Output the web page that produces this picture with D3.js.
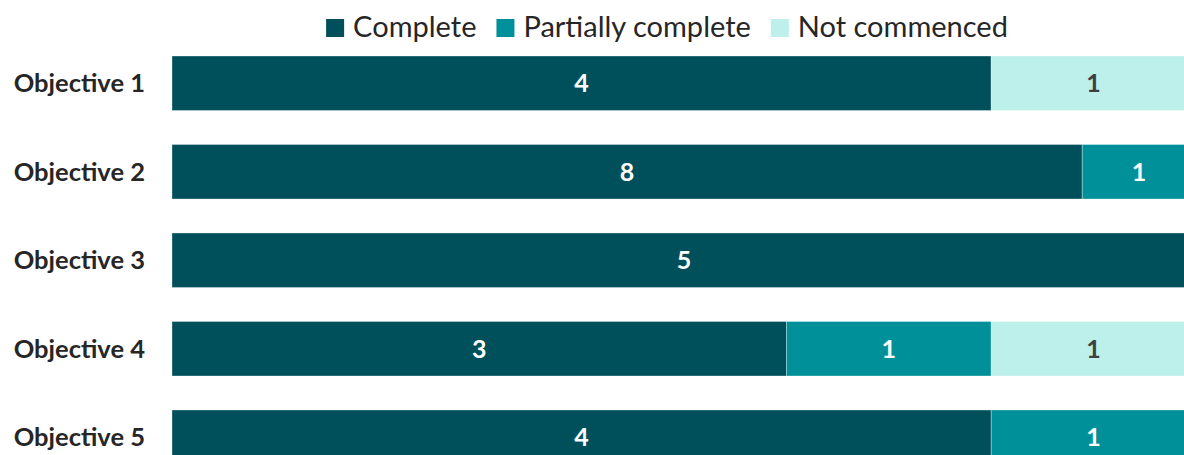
<!DOCTYPE html>
<html><head><meta charset="utf-8">
<script src="https://cdn.jsdelivr.net/npm/d3@7"></script>
<style>html,body{margin:0;padding:0;background:#fff;overflow:hidden}</style>
</head><body>
<svg id="c" width="1184" height="455"></svg>
<script>
const categories = ["Objective 1","Objective 2","Objective 3","Objective 4","Objective 5"];
const seriesNames = ["Complete","Partially complete","Not commenced"];
const complete = [4,8,5,3,4];
const partial = [0,1,0,1,1];
const notCommenced = [1,0,0,1,0];
const colors = ["#00505C","#00909A","#BDF0EB"];
const labelColors = ["#ffffff","#ffffff","#404040"];

const rows = categories.map((c,i)=>({cat:c, vals:[complete[i],partial[i],notCommenced[i]]}));
const svg = d3.select("#c");
const font = "Lato, 'Open Sans', sans-serif";

const x = d3.scaleLinear().domain([0,1]).range([172,1196]);
const y = d3.scaleBand().domain(categories).range([56,464.5]).paddingInner(0.384).paddingOuter(0);

rows.forEach(r=>{
  const tot = d3.sum(r.vals);
  let acc = 0;
  r.vals.forEach((v,k)=>{
    if(!v) return;
    const x0 = x(acc/tot), x1 = x((acc+v)/tot);
    acc += v;
    svg.append("rect").attr("x",x0).attr("y",y(r.cat)).attr("width",x1-x0).attr("height",y.bandwidth())
      .attr("fill",colors[k]).attr("stroke","rgba(255,255,255,0.45)").attr("stroke-width",0.75);
    svg.append("text").attr("x",(x0+x1)/2).attr("y",y(r.cat)+y.bandwidth()/2)
      .attr("dy","0.36em").attr("text-anchor","middle").attr("font-family",font)
      .attr("font-weight","bold").attr("font-size",25).attr("fill",labelColors[k]).text(v);
  });
  svg.append("text").attr("x",145).attr("y",y(r.cat)+y.bandwidth()/2).attr("dy","0.36em")
    .attr("text-anchor","end").attr("font-family",font).attr("font-weight","bold")
    .attr("font-size",25.5).attr("fill","#262626").text(r.cat);
});

// legend
const lg = svg.append("g");
const sq = 18, gapT = 9, gapI = 20;
let lx = 0;
seriesNames.forEach((n,k)=>{
  lg.append("rect").attr("x",lx).attr("y",19).attr("width",sq).attr("height",sq).attr("fill",colors[k]);
  const t = lg.append("text").attr("x",lx+sq+gapT).attr("y",37)
    .attr("font-family",font).attr("font-size",29).attr("fill","#262626").text(n);
  lx += sq+gapT+t.node().getComputedTextLength()+gapI;
});
const lw = lx-gapI;
lg.attr("transform",`translate(${667-lw/2},0)`);
</script>
</body></html>
